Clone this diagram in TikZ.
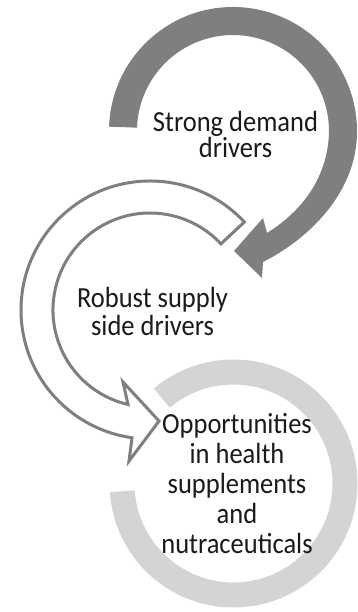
\documentclass[tikz,border=0pt]{standalone}
\usepackage{fontspec}
\setmainfont{Carlito}
\usepackage{graphicx}
\setlength{\lineskiplimit}{-100pt}
\definecolor{darkring}{HTML}{7F7F7F}
\definecolor{lightring}{HTML}{D4D4D4}
\definecolor{txtcol}{HTML}{1A1A1A}
\newcommand\vst[1]{\scalebox{1}[1.1]{#1}}
\begin{document}
\begin{tikzpicture}[x=1pt,y=1pt,
  txt/.style={align=center, inner sep=0pt, text=txtcol},
  ringdark/.style={fill=darkring},
  ringlight/.style={fill=lightring},
  ringoutline/.style={fill=white, draw=darkring, line width=3pt, line join=miter}]
\useasboundingbox (0,0) rectangle (358,612);
% bottom ring
\fill[ringlight] (233.5,128.5) ++(130:124) arc[start angle=130, end angle=-176, radius=124]
  -- ++(-176:-25) arc[start angle=-176, end angle=130, radius=99] -- cycle;
% middle arrow
\filldraw[ringoutline] (150,302) ++(43:129) arc[start angle=43, end angle=262, radius=129]
  -- (129,151) -- (159,191) -- (123,230) -- (128,207.5)
  arc[start angle=256.9, end angle=43, radius=97] -- cycle;
% top arrow
\fill[ringdark] (233,481) ++(178:124) arc[start angle=178, end angle=-5, radius=124]
  .. controls (351.7,415.4) and (307.5,372.5) .. (263,350)
  -- (262,334) -- (234,361) -- (263,394) -- (267,379)
  .. controls (296.8,397.6) and (324.7,427.8) .. (328.6,472.6)
  arc[start angle=-5, end angle=178, radius=96] -- cycle;
% texts
\node[txt, font=\fontsize{26.5}{26.8}\selectfont] (demand) at (235.5,477.5) {\vst{Strong demand}\\\vst{drivers}};
\node[txt, font=\fontsize{26.5}{28}\selectfont] (supply) at (152.5,301) {\vst{Robust supply}\\\vst{side drivers}};
\node[txt, font=\fontsize{26.5}{30}\selectfont] (opps) at (237,128) {\vst{Opportunities}\\\vst{in health}\\\vst{supplements}\\\vst{and}\\\vst{nutraceuticals}};
\end{tikzpicture}
\end{document}
